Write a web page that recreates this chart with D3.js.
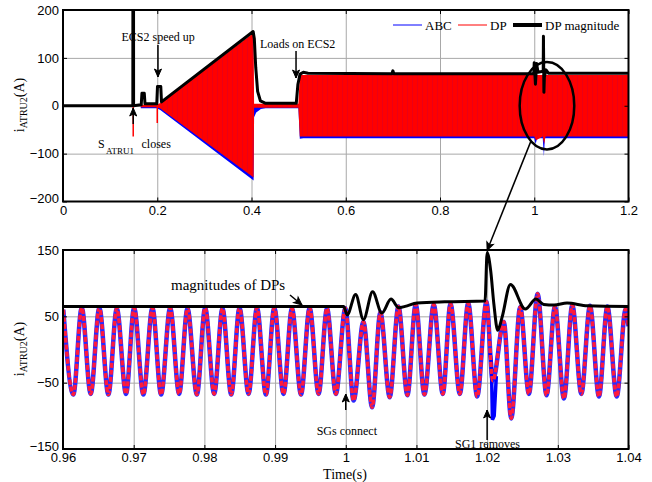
<!DOCTYPE html>
<html>
<head>
<meta charset="utf-8">
<script src="https://cdn.jsdelivr.net/npm/d3@7"></script>
<style>
  body { margin: 0; background: #fff; }
  svg { font-family: "Liberation Serif", "Times New Roman", serif; }
  .tick text { font-size: 13px; fill: #000; }
  .tick line { stroke: #000; }
  .grid line { stroke: #a8a8a8; stroke-width: 1; }
  .grid path { display: none; }
</style>
</head>
<body>
<div id="chart"></div>
<script>
// ---- top panel: whole run, 0 - 1.2 s ----
const topXTicks = [0, 0.2, 0.4, 0.6, 0.8, 1, 1.2];
const topYTicks = [-200, -100, 0, 100, 200];
const topGridY = [-100, 0, 100];

// DP trace drawn as its envelope (red band)
const dpEnvT  = [0.165, 0.199, 0.2065, 0.4045, 0.4055, 0.4995, 0.5025, 0.51, 1.0, 1.004, 1.018, 1.021, 1.024, 1.2];
const dpEnvHi = [2, 2, 6, 152, 4, 4, 64, 64, 64, 64, 64, 64, 64, 64];
const dpEnvLo = [-3, -3, -6, -150, -4, -4, -64, -64, -64, -72, -64, -80, -64, -64];
// ABC lower edge (blue, shows under the red band)
const abcLoT = [0.165, 0.199, 0.2065, 0.4045, 0.4055, 0.41, 0.42, 0.43, 0.4995, 0.5025, 0.51, 1.0, 1.003, 1.006, 1.018, 1.0205, 1.0225, 1.2];
const abcLo  = [-5, -5, -9, -156, -24, -14, -7, -5, -5, -69, -68, -68, -80, -68, -68, -106, -68, -68];
// short DP spikes
const dpSpikeT = [0.149, 0.2];
const dpSpikeI = [-64, -36];
// DP magnitude
const magT = [0, 0.1482, 0.1484, 0.1496, 0.1498, 0.165, 0.166, 0.1675, 0.1725, 0.174, 0.199, 0.2005, 0.2015, 0.2075, 0.209,
  0.4035, 0.406, 0.409, 0.413, 0.419, 0.43, 0.495, 0.4985, 0.503, 0.51, 0.52, 0.698, 0.7, 0.702, 0.999, 1.0, 1.0025, 1.005,
  1.008, 1.019, 1.0195, 1.0205, 1.0215, 1.025, 1.03, 1.2];
const magI = [0, 0, 400, 400, 0, 2, 2, 26, 26, 4, 4, 40, 40, 40, 8,
  155, 140, 80, 30, 10, 5, 5, 45, 66, 70, 68, 67, 73, 67, 67, 90, 45, 88,
  70, 72, 145, 28, 60, 75, 68, 68];

// ---- bottom panel: zoom 0.96 - 1.04 s ----
const botXTicks = [0.96, 0.97, 0.98, 0.99, 1, 1.01, 1.02, 1.03, 1.04];
const botYTicks = [-150, -50, 50, 150];
const botGridY = [-50, 50];

// waveform peaks and troughs (ABC and DP overlap)
const peakT = [0.96004, 0.96265, 0.96514, 0.96761, 0.97006, 0.97265, 0.97516, 0.97761, 0.98011, 0.98256, 0.98497,
  0.98744, 0.98989, 0.99239, 0.99489, 0.99735, 0.99994, 1.0025, 1.0049, 1.00745, 1.0099, 1.01245, 1.01482,
  1.01732, 1.0199, 1.02235, 1.02468, 1.02714, 1.02959, 1.03205, 1.03455, 1.03701, 1.0396];
const peakI = [60, 63, 63, 62, 63, 63, 63, 62, 63, 62, 63,
  63, 63, 62, 63, 62, 62, 42, 56, 65, 68, 68, 69,
  70, 72, 42, 64, 84, 65, 67, 66, 65, 61];
const troughT = [0.96146, 0.96392, 0.96642, 0.96892, 0.97137, 0.97388, 0.97643, 0.97894, 0.98139, 0.9838, 0.98625,
  0.98871, 0.9912, 0.99367, 0.99616, 0.9986, 1.00111, 1.00373, 1.00622, 1.00872, 1.01113, 1.01373, 1.01614,
  1.0186, 1.0208, 1.02341, 1.02591, 1.02841, 1.03087, 1.03333, 1.03582, 1.03833];
const troughI = [-68, -67, -68, -67, -68, -68, -67, -68, -67, -68, -67,
  -68, -67, -68, -67, -67, -77, -87, -72, -69, -68, -67, -67,
  -71, -47, -104, -67, -69, -74, -67, -71, -71];
const edgeT = [1.04];
const edgeI = [35];
// ABC dip when SG1 is removed
const abcDipT = [1.0204, 1.0206, 1.02075, 1.021, 1.0213];
const abcDipI = [-5, -20, -106, -100, -40];
// DP magnitude in the zoom
const magZT = [0.96, 0.9997, 1.0002, 1.0014, 1.0025, 1.0038, 1.0051, 1.0064, 1.0075, 1.0084, 1.0101, 1.014, 1.0197,
  1.02, 1.0205, 1.02095, 1.0215, 1.0221, 1.0233, 1.0254, 1.0269, 1.028, 1.0295, 1.0313, 1.0342, 1.04];
const magZI = [65, 65, 52, 83, 45, 87, 55, 76, 63, 65, 70, 72, 73,
  146, 119, 69, 29, 48, 98, 61, 76, 68, 67, 70, 66, 65];

const svg = d3.select('#chart').append('svg')
  .attr('width', 652).attr('height', 482);

const defs = svg.append('defs');

// faint vertical streaks inside the dense red band
const pat = defs.append('pattern').attr('id', 'streaks')
  .attr('patternUnits', 'userSpaceOnUse').attr('width', 5).attr('height', 10);
pat.append('rect').attr('width', 5).attr('height', 10).attr('fill', '#ff0000');
pat.append('line').attr('x1', 2.5).attr('x2', 2.5).attr('y1', 0).attr('y2', 10)
  .attr('stroke', '#c8003c').attr('stroke-width', 0.6).attr('stroke-opacity', 0.6);

const xTop = d3.scaleLinear().domain([0, 1.2]).range([63, 628.5]);
const yTop = d3.scaleLinear().domain([-200, 200]).range([201.5, 10]);
const xBot = d3.scaleLinear().domain([0.96, 1.04]).range([63, 628.5]);
const yBot = d3.scaleLinear().domain([-150, 150]).range([449, 250]);

function grid(x, y, xTicks, gridY) {
  const [x0, x1] = x.range(), [y0, y1] = y.range();
  svg.append('g').attr('class', 'grid')
    .attr('transform', `translate(0,${y0})`)
    .call(d3.axisBottom(x).tickValues(xTicks.slice(1, -1)).tickSize(-(y0 - y1)).tickFormat(''));
  svg.append('g').attr('class', 'grid')
    .attr('transform', `translate(${x0},0)`)
    .call(d3.axisLeft(y).tickValues(gridY).tickSize(-(x1 - x0)).tickFormat(''));
}

function frame(x, y, xTicks, yTicks, fmt) {
  const [x0, x1] = x.range(), [y0, y1] = y.range();
  const noDomain = g => g.select('.domain').remove();
  svg.append('g').attr('transform', `translate(0,${y0})`)
    .call(d3.axisBottom(x).tickValues(xTicks).tickFormat(fmt).tickSizeInner(-4).tickSizeOuter(0).tickPadding(4))
    .call(noDomain);
  const left = svg.append('g').attr('transform', `translate(${x0},0)`)
    .call(d3.axisLeft(y).tickValues(yTicks).tickSizeInner(-4).tickSizeOuter(0).tickPadding(4))
    .call(noDomain);
  // lowest label sits just above the x labels, as in the original
  left.selectAll('.tick text').filter(d => d === yTicks[0]).attr('dy', '0.1em');
  svg.append('g').attr('transform', `translate(0,${y1})`)
    .call(d3.axisTop(x).tickValues(xTicks).tickFormat('').tickSizeInner(-4).tickSizeOuter(0))
    .call(noDomain);
  svg.append('g').attr('transform', `translate(${x1},0)`)
    .call(d3.axisRight(y).tickValues(yTicks).tickFormat('').tickSizeInner(-4).tickSizeOuter(0))
    .call(noDomain);
  svg.append('rect')
    .attr('x', x0).attr('y', y1).attr('width', x1 - x0).attr('height', y0 - y1)
    .attr('fill', 'none').attr('stroke', '#000').attr('stroke-width', 2);
}

function yLabel(cy) {
  const t = svg.append('text')
    .attr('transform', `translate(23.5,${cy}) rotate(-90)`)
    .attr('text-anchor', 'middle').style('font-size', '14px');
  t.append('tspan').text('i');
  t.append('tspan').attr('dy', 3).style('font-size', '10px').text('ATRU2');
  t.append('tspan').attr('dy', -3).text('(A)');
}

function arrow(x1, y1, x2, y2) {
  const a = Math.atan2(y2 - y1, x2 - x1) * 180 / Math.PI;
  svg.append('line').attr('x1', x1).attr('y1', y1).attr('x2', x2).attr('y2', y2)
    .attr('stroke', '#000').attr('stroke-width', 1.5);
  svg.append('path').attr('d', 'M0,0 L-8,-3.5 L-6,0 L-8,3.5 Z')
    .attr('transform', `translate(${x2},${y2}) rotate(${a})`)
    .attr('fill', '#000').attr('stroke', '#000').attr('stroke-width', 1);
}

function note(x, y, txt, size = 12) {
  return svg.append('text').attr('x', x).attr('y', y).style('font-size', size + 'px').text(txt);
}

// ================= top panel =================
defs.append('clipPath').attr('id', 'clipTop').append('rect')
  .attr('x', 63).attr('y', 10).attr('width', 628.5 - 63).attr('height', 201.5 - 10);

grid(xTop, yTop, topXTicks, topGridY);

const topPlot = svg.append('g').attr('clip-path', 'url(#clipTop)');

const abcTop = abcLoT.map((t, i) => ({ t, lo: abcLo[i] }));
topPlot.append('path').datum(abcTop)
  .attr('fill', '#0000ff')
  .attr('d', d3.area().x(d => xTop(d.t)).y0(yTop(0)).y1(d => yTop(d.lo)));

const dpTop = dpEnvT.map((t, i) => ({ t, hi: dpEnvHi[i], lo: dpEnvLo[i] }));
topPlot.append('path').datum(dpTop)
  .attr('fill', 'url(#streaks)')
  .attr('d', d3.area().x(d => xTop(d.t)).y0(d => yTop(d.lo)).y1(d => yTop(d.hi)));

topPlot.selectAll('line.spike').data(dpSpikeT.map((t, i) => ({ t, v: dpSpikeI[i] })))
  .join('line').attr('class', 'spike')
  .attr('x1', d => xTop(d.t)).attr('x2', d => xTop(d.t))
  .attr('y1', yTop(0)).attr('y2', d => yTop(d.v))
  .attr('stroke', '#ff0000').attr('stroke-width', 1.5);

const magTop = magT.map((t, i) => ({ t, v: magI[i] }));
topPlot.append('path').datum(magTop)
  .attr('fill', 'none').attr('stroke', '#000').attr('stroke-width', 3)
  .attr('stroke-linejoin', 'round')
  .attr('d', d3.line().x(d => xTop(d.t)).y(d => yTop(d.v)));

frame(xTop, yTop, topXTicks, topYTicks, d3.format('~g'));
yLabel(105);

// legend
const legend = [
  { name: 'ABC', color: '#0000ff', w: 1, x: 393 },
  { name: 'DP', color: '#ff0000', w: 1, x: 458 },
  { name: 'DP magnitude', color: '#000', w: 4, x: 513 }
];
const lg = svg.append('g').selectAll('g').data(legend).join('g');
lg.append('line').attr('x1', d => d.x).attr('x2', d => d.x + 29)
  .attr('y1', 25).attr('y2', 25)
  .attr('stroke', d => d.color).attr('stroke-width', d => d.w);
lg.append('text').attr('x', d => d.x + 32).attr('y', 30)
  .style('font-size', '13px').text(d => d.name);

// annotations
note(121.5, 41, 'ECS2 speed up');
arrow(xTop(0.2015), 45, xTop(0.2015), 77);
note(260, 47.5, 'Loads on ECS2');
arrow(xTop(0.4945), 51, xTop(0.4945), 78);
note(98, 148, 'S');
note(106, 153.5, 'ATRU1', 9);
note(141.5, 148, 'closes');
arrow(xTop(0.149), 124, xTop(0.149), 108);

// ellipse round the SG events and pointer to the zoom
const ecx = xTop(1.027), ecy = yTop(0), erx = 27.3, ery = 43.7;
svg.append('ellipse').attr('cx', ecx).attr('cy', ecy).attr('rx', erx).attr('ry', ery)
  .attr('fill', 'none').attr('stroke', '#000').attr('stroke-width', 2.5);
const th = 126 * Math.PI / 180;
arrow(ecx + erx * Math.cos(th), ecy + ery * Math.sin(th), xBot(1.02), yBot(150) + 0.5);

// ================= bottom panel =================
defs.append('clipPath').attr('id', 'clipBot').append('rect')
  .attr('x', 63).attr('y', 250).attr('width', 628.5 - 63).attr('height', 449 - 250);

grid(xBot, yBot, botXTicks, botGridY);

const botPlot = svg.append('g').attr('clip-path', 'url(#clipBot)');

const wave = peakT.map((t, i) => ({ t, v: peakI[i] }))
  .concat(troughT.map((t, i) => ({ t, v: troughI[i] })))
  .concat(edgeT.map((t, i) => ({ t, v: edgeI[i] })))
  .sort((a, b) => a.t - b.t);
const waveLine = d3.line().x(d => xBot(d.t)).y(d => yBot(d.v)).curve(d3.curveMonotoneX);

botPlot.append('path').datum(wave)
  .attr('fill', 'none').attr('stroke', '#2a2aff').attr('stroke-width', 4.5)
  .attr('d', waveLine);
botPlot.append('path').datum(abcDipT.map((t, i) => ({ t, v: abcDipI[i] })))
  .attr('fill', 'none').attr('stroke', '#0000ff').attr('stroke-width', 3.5)
  .attr('d', d3.line().x(d => xBot(d.t)).y(d => yBot(d.v)));
botPlot.append('path').datum(wave)
  .attr('fill', 'none').attr('stroke', '#ff1a3c').attr('stroke-width', 3.5)
  .attr('stroke-dasharray', '5,2')
  .attr('d', waveLine);

const magBot = magZT.map((t, i) => ({ t, v: magZI[i] }));
botPlot.append('path').datum(magBot)
  .attr('fill', 'none').attr('stroke', '#000').attr('stroke-width', 3)
  .attr('stroke-linejoin', 'round')
  .attr('d', d3.line().x(d => xBot(d.t)).y(d => yBot(d.v)).curve(d3.curveMonotoneX));

frame(xBot, yBot, botXTicks, botYTicks, d3.format('~g'));
yLabel(349);

svg.append('text').attr('x', 345).attr('y', 479).attr('text-anchor', 'middle')
  .style('font-size', '14px').text('Time(s)');

note(171, 290, 'magnitudes of DPs', 15);
arrow(290, 295, 302, 305);
note(377, 435, 'SGs connect').attr('text-anchor', 'end');
arrow(xBot(1.0), 410, xBot(1.0), 394);
note(455, 448, 'SG1 removes');
arrow(xBot(1.02), 440, xBot(1.02), 410);
</script>
</body>
</html>
